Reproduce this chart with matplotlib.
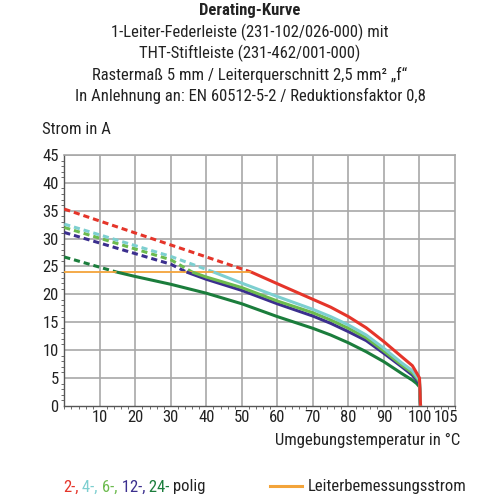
import matplotlib.pyplot as plt
import matplotlib.transforms as mtransforms
from matplotlib.ticker import MultipleLocator

plt.rcParams['font.family'] = ['DejaVu Sans Condensed', 'Roboto Condensed', 'Roboto', 'DejaVu Sans']
plt.rcParams['font.stretch'] = 'condensed'

temp_2 = [0, 52.6, 60, 70, 75, 80, 85, 90, 95, 98, 99.2, 100, 100.3]
strom_2 = [35.3, 24.0, 21.9, 19.1, 17.7, 16.0, 14.0, 11.5, 8.8, 7.2, 5.9, 5.0, 0]
temp_4 = [0, 30, 42, 50, 60, 70, 75, 80, 85, 90, 95, 98, 99.2, 100, 100.3]
strom_4 = [32.6, 26.8, 24.0, 22.0, 19.6, 17.3, 16.0, 14.5, 12.7, 10.3, 7.7, 6.3, 5.3, 4.6, 0]
temp_6 = [0, 30, 36, 40, 50, 60, 70, 75, 80, 85, 90, 95, 98, 99.2, 100, 100.3]
strom_6 = [32.0, 26.2, 24.0, 23.1, 21.2, 18.8, 16.7, 15.4, 13.9, 12.2, 9.8, 7.3, 5.9, 5.0, 4.3, 0]
temp_12 = [0, 30, 34.4, 40, 50, 60, 70, 75, 80, 85, 90, 95, 98, 99.2, 100, 100.3]
strom_12 = [31.1, 25.4, 24.0, 22.7, 20.7, 18.3, 16.1, 14.8, 13.3, 11.7, 9.4, 7.0, 5.5, 4.6, 4.0, 0]
temp_24 = [0, 14.7, 20, 30, 40, 50, 60, 70, 75, 80, 85, 90, 95, 98, 99.2, 100, 100.3]
strom_24 = [26.7, 24.0, 23.2, 21.8, 20.2, 18.3, 16.0, 13.9, 12.7, 11.3, 9.7, 7.9, 5.8, 4.6, 4.0, 3.4, 0]

bemessung_strom = 24.0
bemessung_bis = 52.6

polzahl = ['2-,', '4-,', '6-,', '12-,', '24-']
farben = ['#e5352a', '#7dcfd0', '#6cbb4e', '#3b2f8e', '#1b7d3c']
orange = '#f3a43a'

kurven = [(temp_24, strom_24, farben[4]),
          (temp_12, strom_12, farben[3]),
          (temp_6, strom_6, farben[2]),
          (temp_4, strom_4, farben[1]),
          (temp_2, strom_2, farben[0])]

fig = plt.figure(figsize=(5, 5), dpi=100)
ax = fig.add_axes([0.1286, 0.1884, 0.7814, 0.5016])

ax.plot([0, bemessung_bis], [bemessung_strom, bemessung_strom], color=orange, lw=1.3, zorder=4)

for t, s, c in kurven:
    # gestrichelt oberhalb des Bemessungsstroms
    i = next(k for k, v in enumerate(s) if v <= bemessung_strom)
    ax.plot(t[:i + 1], s[:i + 1], color=c, lw=2.2, ls=(0, (2, 1.3)), zorder=3)
    ax.plot(t[i:], s[i:], color=c, lw=2.2, zorder=5, solid_capstyle='butt', solid_joinstyle='round')

ax.set_xlim(0, 110)
ax.set_ylim(0, 45)
ax.set_xticks([10, 20, 30, 40, 50, 60, 70, 80, 90, 100, 105])
ax.set_yticks(range(0, 50, 5))
ax.xaxis.set_minor_locator(MultipleLocator(2))
ax.yaxis.set_minor_locator(MultipleLocator(1))
for x in range(10, 101, 10):
    ax.axvline(x, color='#a8a8a8', lw=1.2, zorder=1)
for y in range(5, 46, 5):
    ax.axhline(y, color='#a8a8a8', lw=1.2, zorder=1)
for sp in ['top', 'right']:
    ax.spines[sp].set_color('#a8a8a8')
    ax.spines[sp].set_linewidth(1.2)
for sp in ['left', 'bottom']:
    ax.spines[sp].set_color('#555555')
    ax.spines[sp].set_linewidth(1.0)
ax.tick_params(which='major', length=0, labelsize=12, colors='#222222', pad=3)
ax.tick_params(which='minor', length=2, color='#555555', width=0.6)
ax.tick_params(axis='y', pad=4)

# "105" etwas nach rechts, damit es nicht an "100" klebt
verschub = mtransforms.ScaledTranslation(9 / 100, 0, fig.dpi_scale_trans)
lbl = ax.get_xticklabels()[-1]
lbl.set_transform(lbl.get_transform() + verschub)

titel = ['1-Leiter-Federleiste (231-102/026-000) mit',
         'THT-Stiftleiste (231-462/001-000)',
         'Rastermaß 5 mm / Leiterquerschnitt 2,5 mm² „f“',
         'In Anlehnung an: EN 60512-5-2 / Reduktionsfaktor 0,8']
fig.text(0.5, 1 - 11 / 500, 'Derating-Kurve', ha='center', va='center',
         fontsize=12, fontweight='bold', color='#222222')
for n, zeile in enumerate(titel):
    fig.text(0.5, 1 - (32 + 21.3 * n) / 500, zeile, ha='center', va='center',
             fontsize=12, color='#222222')

fig.text(42 / 500, 1 - 130 / 500, 'Strom in A', ha='left', va='center', fontsize=12, color='#222222')
fig.text(460 / 500, 1 - 440 / 500, 'Umgebungstemperatur in °C', ha='right', va='center',
         fontsize=12, color='#222222')

# Legende
prev = fig.text(63 / 500, 1 - 487 / 500, polzahl[0], ha='left', va='center', fontsize=12, color=farben[0])
for p, c in zip(polzahl[1:], farben[1:]):
    prev = ax.annotate(' ' + p, xy=(1, 0), xycoords=prev, va='bottom', ha='left',
                       fontsize=12, color=c, annotation_clip=False)
ax.annotate(' polig', xy=(1, 0), xycoords=prev, va='bottom', ha='left',
            fontsize=12, color='#222222', annotation_clip=False)
fig.add_artist(plt.Line2D([270 / 500, 302 / 500], [1 - 486 / 500, 1 - 486 / 500],
                          color=orange, lw=2.2))
fig.text(308 / 500, 1 - 487 / 500, 'Leiterbemessungsstrom', ha='left', va='center',
         fontsize=12, color='#222222')

fig.savefig('out.png', dpi=100)
